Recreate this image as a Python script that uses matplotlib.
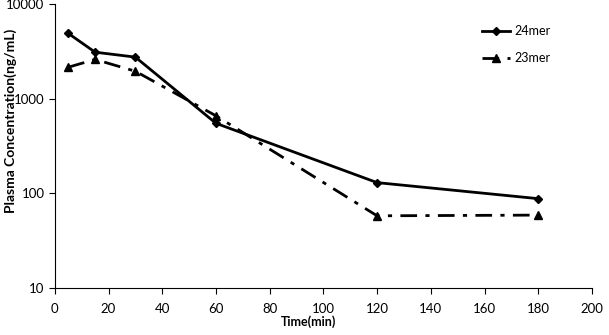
import matplotlib
matplotlib.use("Agg")
import matplotlib.pyplot as plt
from matplotlib.ticker import FixedLocator, NullLocator, FixedFormatter

plt.rcParams['font.family'] = ['Lato', 'DejaVu Sans']

time_min = [5, 15, 30, 60, 120, 180]
mer24 = [4900, 3100, 2750, 550, 130, 88]
mer23 = [2150, 2600, 1950, 660, 58, 59]

yticks = [10, 100, 1000, 10000]
ytick_labels = ["10", "100", "1000", "10000"]
xticks = list(range(0, 201, 20))

fig = plt.figure(figsize=(6.09, 3.35), dpi=100)
ax = fig.add_axes([0.090, 0.140, 0.882, 0.848])

ax.plot(time_min, mer24, color="black", linestyle="-", linewidth=2,
        marker="D", markersize=4.5, label="24mer")
ax.plot(time_min, mer23, color="black", linestyle=(0, (6, 3, 1.5, 3)), linewidth=2,
        marker="^", markersize=6, label="23mer")

ax.set_yscale("log")
ax.set_ylim(10, 10000)
ax.set_xlim(0, 200)
ax.yaxis.set_major_locator(FixedLocator(yticks))
ax.yaxis.set_major_formatter(FixedFormatter(ytick_labels))
ax.yaxis.set_minor_locator(NullLocator())
ax.set_xticks(xticks)

for side in ["top", "right"]:
    ax.spines[side].set_visible(False)
ax.tick_params(axis="both", direction="out", length=4, labelsize=9.5)
ax.tick_params(axis="x", pad=7)

ax.set_xlabel("Time(min)", fontsize=9, fontweight="bold")
ax.xaxis.set_label_coords(0.472, -0.095)
ax.set_ylabel("Plasma Concentration(ng/mL)", fontsize=10, fontweight="bold")
ax.yaxis.set_label_coords(-0.071, 0.59)

ax.legend(loc="upper right", bbox_to_anchor=(0.945, 0.965), frameon=False,
          fontsize=9, handlelength=2.2, labelspacing=1.2, handletextpad=0.4)

plt.savefig("out.png", dpi=100)
